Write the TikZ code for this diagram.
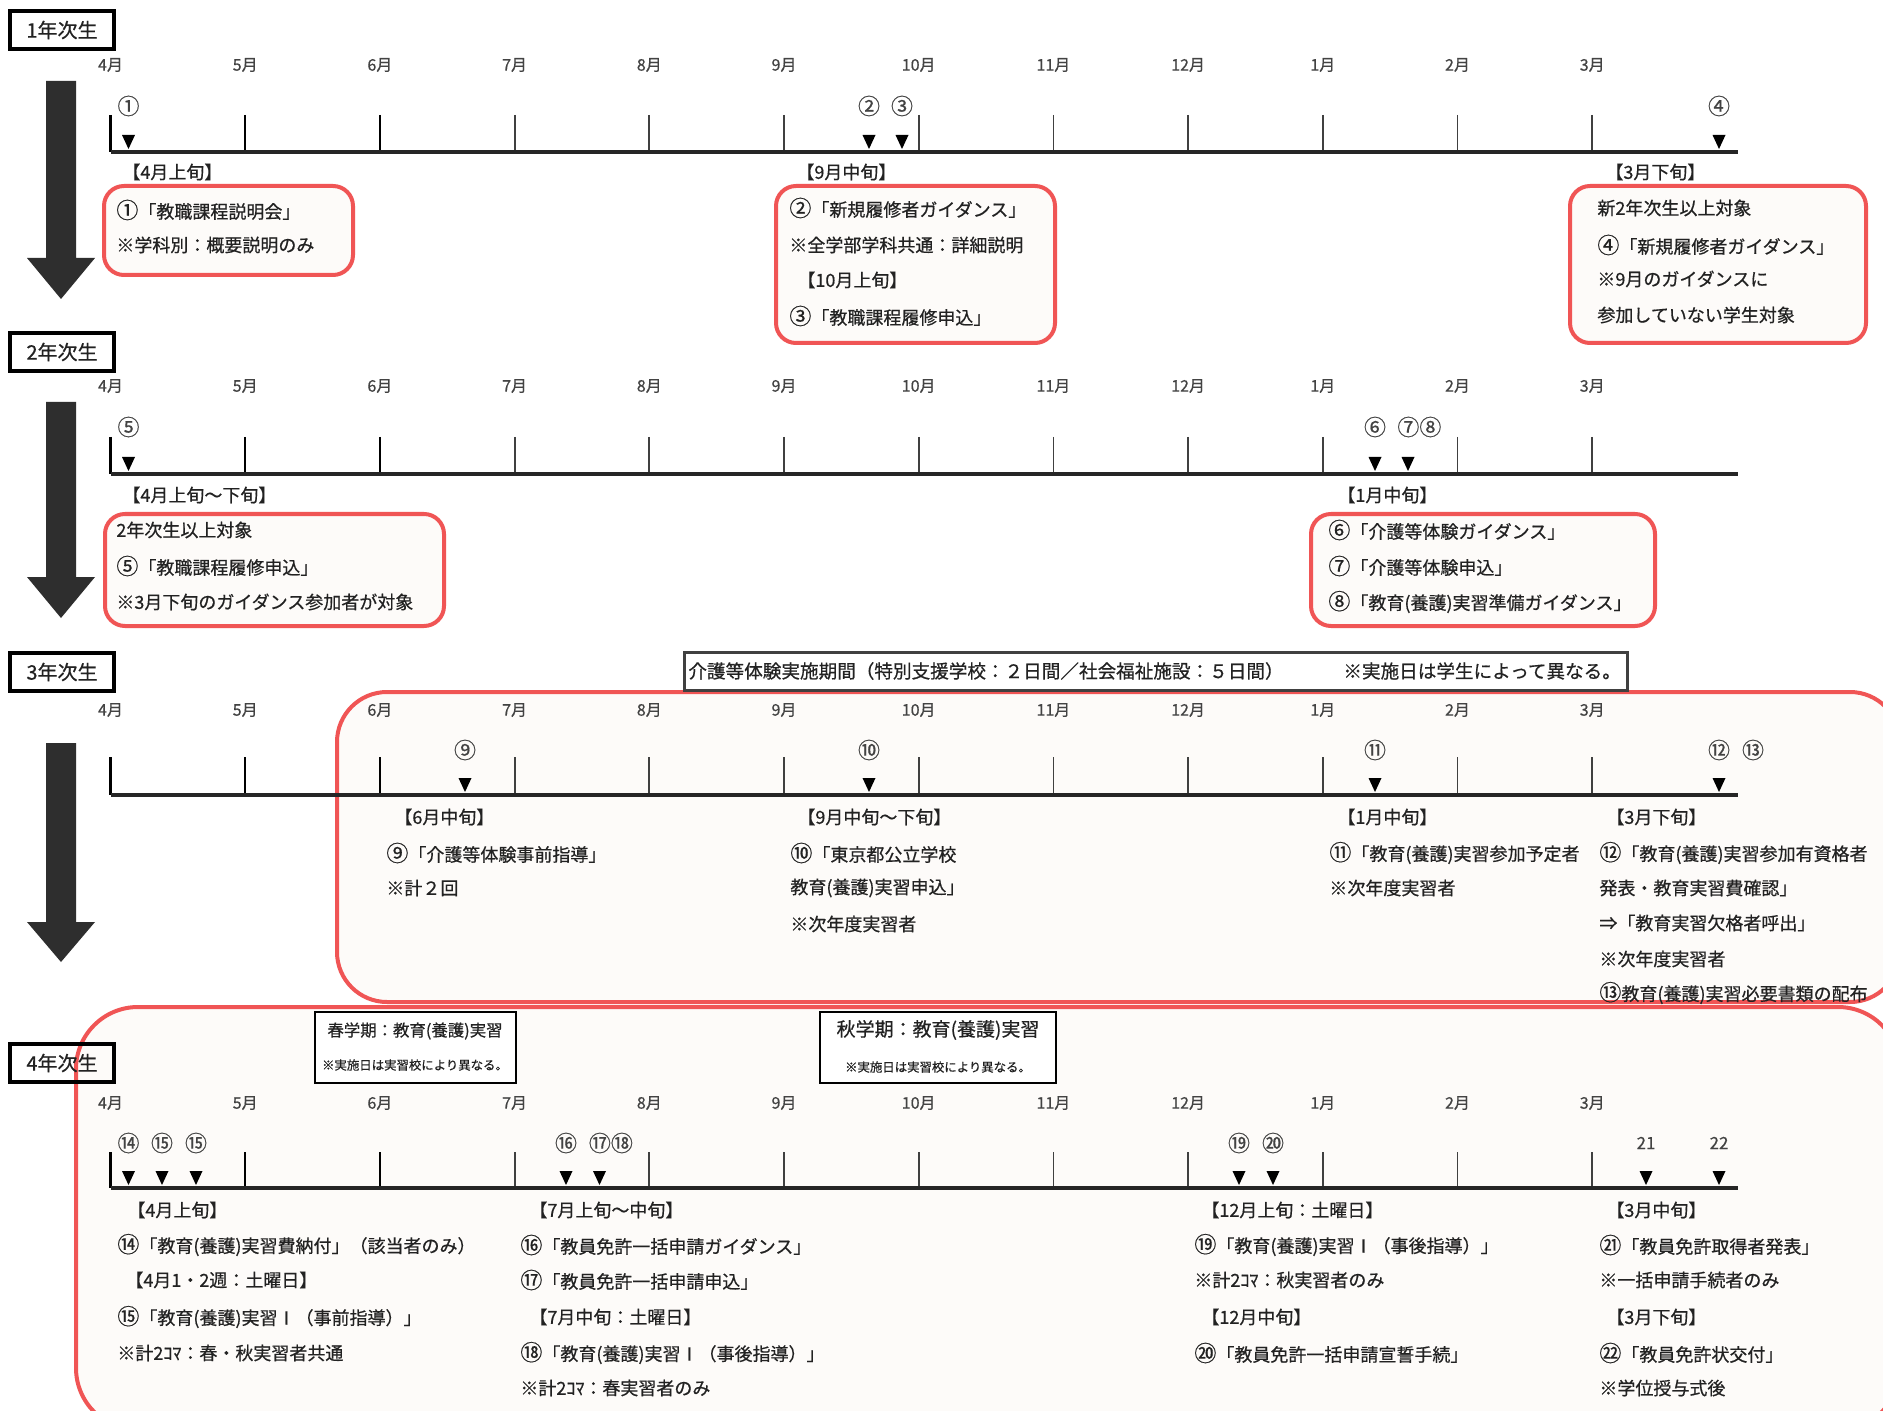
\documentclass[tikz,border=0pt]{standalone}
\usepackage{fontspec}
\newfontfamily\jp{Noto Sans CJK JP}[FakeBold=0.6]
\newcommand{\cn}[1]{{\fontsize{11}{11}\selectfont #1}}
\definecolor{boxred}{HTML}{F05555}
\definecolor{boxfill}{HTML}{FDFBF9}
\definecolor{arrowgray}{HTML}{2E2E2E}
\definecolor{ink}{HTML}{222222}
\tikzset{
  txt/.style={anchor=west, inner sep=0pt, text=ink, font=\jp\fontsize{9}{11}\selectfont},
  toptxt/.style={anchor=west, inner sep=0pt, text=ink, font=\jp\fontsize{9.3}{11}\selectfont},
  mon/.style={inner sep=0pt, text=ink!85, font=\jp\fontsize{8}{10}\selectfont},
  num/.style={inner sep=0pt, text=ink!85, font=\jp\fontsize{11}{12}\selectfont},
  plainnum/.style={inner sep=0pt, text=ink!85, font=\jp\fontsize{8.5}{10}\selectfont},
  yearlbl/.style={draw=black, line width=2.2pt, minimum width=52pt, minimum height=19pt, inner sep=0pt, text=ink, font=\jp\fontsize{10}{12}\selectfont},
  redbox/.style={draw=boxred, line width=2pt, fill=boxfill},
  tickA/.style={line width=1.2pt, draw=black},
  tickB/.style={line width=0.9pt, draw=black!75},
  axisline/.style={line width=1.6pt, draw=black!85},
  tri/.style={fill=black},
  bigarrow/.style={fill=arrowgray},
  notebox/.style={draw=black, line width=1.1pt, fill=white},
  notebig/.style={inner sep=0pt, text=ink, font=\jp\fontsize{#1}{11}\selectfont},
  notesmall/.style={inner sep=0pt, text=ink, font=\jp\fontsize{6.2}{8}\selectfont},
}
\newcommand{\tlaxis}[4]{%
  \foreach \m [count=\i from 0] in {4,5,6,7,8,9,10,11,12,1,2,3}{%
    \pgfmathsetmacro{\xx}{110.5+134.7*\i}%
    \node[mon] (#4m\i) at (\xx,#3) {\m{}月};%
    \ifnum\i<3 \draw[tickA] (\xx,#2) -- (\xx,#1);\else \draw[tickB] (\xx,#2) -- (\xx,#1);\fi
  }%
  \draw[axisline] (110.5,#1) -- (1738,#1);%
}
\newcommand{\tlmark}[2]{%
  \fill[tri] (#1-6.5,#2-17) -- (#1+6.5,#2-17) -- (#1,#2-3) -- cycle;%
}
\newcommand{\tlarrow}[3]{%
  \fill[bigarrow] (46,#1) -- (76,#1) -- (76,#2) -- (95,#2) -- (61,#3) -- (27,#2) -- (46,#2) -- cycle;%
}
\begin{document}
\begin{tikzpicture}[x=0.5pt,y=-0.5pt]
\useasboundingbox (0,0) rectangle (1883,1411);
\clip (0,0) rectangle (1883,1411);
\fill[white] (0,0) rectangle (1883,1411);

% ---------- big red frames (years 3 and 4)
\draw[redbox, rounded corners=25pt] (337,692) rectangle (1900,1002);
\draw[redbox, rounded corners=31pt] (76,1007) rectangle (1900,1430);

% ---------- down arrows
\tlarrow{81}{258}{299}
\tlarrow{402}{577}{618}
\tlarrow{743}{922}{962}

% ================= 1年次生 =================
\node[yearlbl] (y1) at (62,30) {1年次生};
\tlaxis{152}{115}{65}{a}
\tlmark{128.5}{152} \node[num] (a1) at (128.5,106) {①};
\tlmark{869}{152}   \node[num] (a2) at (869,106) {②};
\tlmark{902}{152}   \node[num] (a3) at (902,106) {③};
\tlmark{1719}{152}  \node[num] (a4) at (1719,106) {④};

\node[txt] (a1h) at (122,172) {【4月上旬】};
\draw[redbox, rounded corners=10pt] (104,186) rectangle (353,275);
\node[txt] (a1t1) at (116,210) {\cn{①}「教職課程説明会」};
\node[txt] (a1t2) at (116,245) {※学科別：概要説明のみ};

\node[txt] (a2h) at (796,172) {【9月中旬】};
\draw[redbox, rounded corners=10pt] (776,186) rectangle (1055,343);
\node[txt] (a2t1) at (789,208) {\cn{②}「新規履修者ガイダンス」};
\node[txt] (a2t2) at (789,245) {※全学部学科共通：詳細説明};
\node[txt] (a2t3) at (797,280) {【10月上旬】};
\node[txt] (a2t4) at (789,316) {\cn{③}「教職課程履修申込」};

\node[txt] (a3h) at (1605,172) {【3月下旬】};
\draw[redbox, rounded corners=10pt] (1570,186) rectangle (1866,343);
\node[txt] (a3t1) at (1597,208) {新2年次生以上対象};
\node[txt] (a3t2) at (1597,245) {\cn{④}「新規履修者ガイダンス」};
\node[txt] (a3t3) at (1597,279) {※9月のガイダンスに};
\node[txt] (a3t4) at (1597,315) {参加していない学生対象};

% ================= 2年次生 =================
\node[yearlbl] (y2) at (62,352) {2年次生};
\tlaxis{474}{437}{386}{b}
\tlmark{128.5}{474} \node[num] (b5) at (128.5,427) {⑤};
\tlmark{1375}{474}  \node[num] (b6) at (1375,427) {⑥};
\tlmark{1408}{474}  \node[num, anchor=west] (b78) at (1408-11,427) {⑦⑧};

\node[txt] (b1h) at (122,495) {【4月上旬～下旬】};
\draw[redbox, rounded corners=10pt] (105,514) rectangle (444,626);
\node[txt] (b1t1) at (116,530) {2年次生以上対象};
\node[txt] (b1t2) at (116,566) {\cn{⑤}「教職課程履修申込」};
\node[txt] (b1t3) at (116,602) {※3月下旬のガイダンス参加者が対象};

\node[txt] (b2h) at (1337,495) {【1月中旬】};
\draw[redbox, rounded corners=10pt] (1311,514) rectangle (1655,626);
\node[txt] (b2t1) at (1328,530) {\cn{⑥}「介護等体験ガイダンス」};
\node[txt] (b2t2) at (1328,566) {\cn{⑦}「介護等体験申込」};
\node[txt] (b2t3) at (1328,602) {\cn{⑧}「教育(養護)実習準備ガイダンス」};

% ================= 3年次生 =================
\node[yearlbl] (y3) at (62,672) {3年次生};
\draw[draw=black!75, line width=1.5pt, fill=white] (684,652) rectangle (1627,690);
\node[toptxt] (c0a) at (688,671) {介護等体験実施期間（特別支援学校：２日間／社会福祉施設：５日間）};
\node[toptxt] (c0b) at (1343,671) {※実施日は学生によって異なる。};
\tlaxis{795}{757}{710}{c}
\tlmark{465}{795}  \node[num] (c9) at (465,750) {⑨};
\tlmark{869}{795}  \node[num] (c10) at (869,750) {⑩};
\tlmark{1375}{795} \node[num] (c11) at (1375,750) {⑪};
\tlmark{1719}{795} \node[num] (c12) at (1719,750) {⑫};
\node[num] (c13) at (1753,750) {⑬};

\node[txt] (c1h) at (394,817) {【6月中旬】};
\node[txt] (c1t1) at (386,853) {\cn{⑨}「介護等体験事前指導」};
\node[txt] (c1t2) at (386,888) {※計２回};

\node[txt] (c2h) at (797,817) {【9月中旬～下旬】};
\node[txt] (c2t1) at (790,853) {\cn{⑩}「東京都公立学校};
\node[txt] (c2t2) at (790,888) {教育(養護)実習申込」};
\node[txt] (c2t3) at (790,924) {※次年度実習者};

\node[txt] (c3h) at (1337,817) {【1月中旬】};
\node[txt] (c3t1) at (1329,853) {\cn{⑪}「教育(養護)実習参加予定者};
\node[txt] (c3t2) at (1329,888) {※次年度実習者};

\node[txt] (c4h) at (1606,817) {【3月下旬】};
\node[txt] (c4t1) at (1599,853) {\cn{⑫}「教育(養護)実習参加有資格者};
\node[txt] (c4t2) at (1599,888) {発表・教育実習費確認」};
\node[txt] (c4t3) at (1599,923) {⇒「教育実習欠格者呼出」};
\node[txt] (c4t4) at (1599,959) {※次年度実習者};
\node[txt] (c4t5) at (1599,993) {\cn{⑬}教育(養護)実習必要書類の配布};

% ================= 4年次生 =================
\node[yearlbl] (y4) at (62,1063) {4年次生};
\draw[notebox] (315,1012) rectangle (516,1083);
\node[notebig=8.2] (s1) at (415,1031) {春学期：教育(養護)実習};
\node[notesmall] (s2) at (415,1065) {※実施日は実習校により異なる。};
\draw[notebox] (820,1012) rectangle (1056,1083);
\node[notebig=9.5] (f1) at (938,1030) {秋学期：教育(養護)実習};
\node[notesmall] (f2) at (938,1067) {※実施日は実習校により異なる。};

\tlaxis{1188}{1152}{1103}{d}
\tlmark{128.5}{1188} \node[num] (d14) at (128.5,1143) {⑭};
\tlmark{162}{1188}   \node[num] (d15a) at (162,1143) {⑮};
\tlmark{196}{1188}   \node[num] (d15b) at (196,1143) {⑮};
\tlmark{566}{1188}   \node[num] (d16) at (566,1143) {⑯};
\tlmark{599.5}{1188} \node[num, anchor=west] (d1718) at (599.5-11,1143) {⑰⑱};
\tlmark{1239}{1188}  \node[num] (d19) at (1239,1143) {⑲};
\tlmark{1273}{1188}  \node[num] (d20) at (1273,1143) {⑳};
\tlmark{1646}{1188}  \node[plainnum] (d21) at (1646,1143) {21};
\tlmark{1719}{1188}  \node[plainnum] (d22) at (1719,1143) {22};

\node[txt] (d1h) at (127,1210) {【4月上旬】};
\node[txt] (d1t1) at (117,1245) {\cn{⑭}「教育(養護)実習費納付」（該当者のみ）};
\node[txt] (d1t2) at (125,1280) {【4月1・2週：土曜日】};
\node[txt] (d1t3) at (117,1317) {\cn{⑮}「教育(養護)実習Ⅰ（事前指導）」};
\node[txt] (d1t4) at (117,1353) {※計2ｺﾏ：春・秋実習者共通};

\node[txt] (d2h) at (529,1210) {【7月上旬～中旬】};
\node[txt] (d2t1) at (520,1245) {\cn{⑯}「教員免許一括申請ガイダンス」};
\node[txt] (d2t2) at (520,1280) {\cn{⑰}「教員免許一括申請申込」};
\node[txt] (d2t3) at (529,1317) {【7月中旬：土曜日】};
\node[txt] (d2t4) at (520,1353) {\cn{⑱}「教育(養護)実習Ⅰ（事後指導）」};
\node[txt] (d2t5) at (520,1388) {※計2ｺﾏ：春実習者のみ};

\node[txt] (d3h) at (1201,1210) {【12月上旬：土曜日】};
\node[txt] (d3t1) at (1194,1245) {\cn{⑲}「教育(養護)実習Ⅰ（事後指導）」};
\node[txt] (d3t2) at (1194,1280) {※計2ｺﾏ：秋実習者のみ};
\node[txt] (d3t3) at (1201,1317) {【12月中旬】};
\node[txt] (d3t4) at (1194,1353) {\cn{⑳}「教員免許一括申請宣誓手続」};

\node[txt] (d4h) at (1606,1210) {【3月中旬】};
\node[txt] (d4t1) at (1599,1245) {\cn{㉑}「教員免許取得者発表」};
\node[txt] (d4t2) at (1599,1280) {※一括申請手続者のみ};
\node[txt] (d4t3) at (1606,1317) {【3月下旬】};
\node[txt] (d4t4) at (1599,1353) {\cn{㉒}「教員免許状交付」};
\node[txt] (d4t5) at (1599,1388) {※学位授与式後};
\end{tikzpicture}
\end{document}
